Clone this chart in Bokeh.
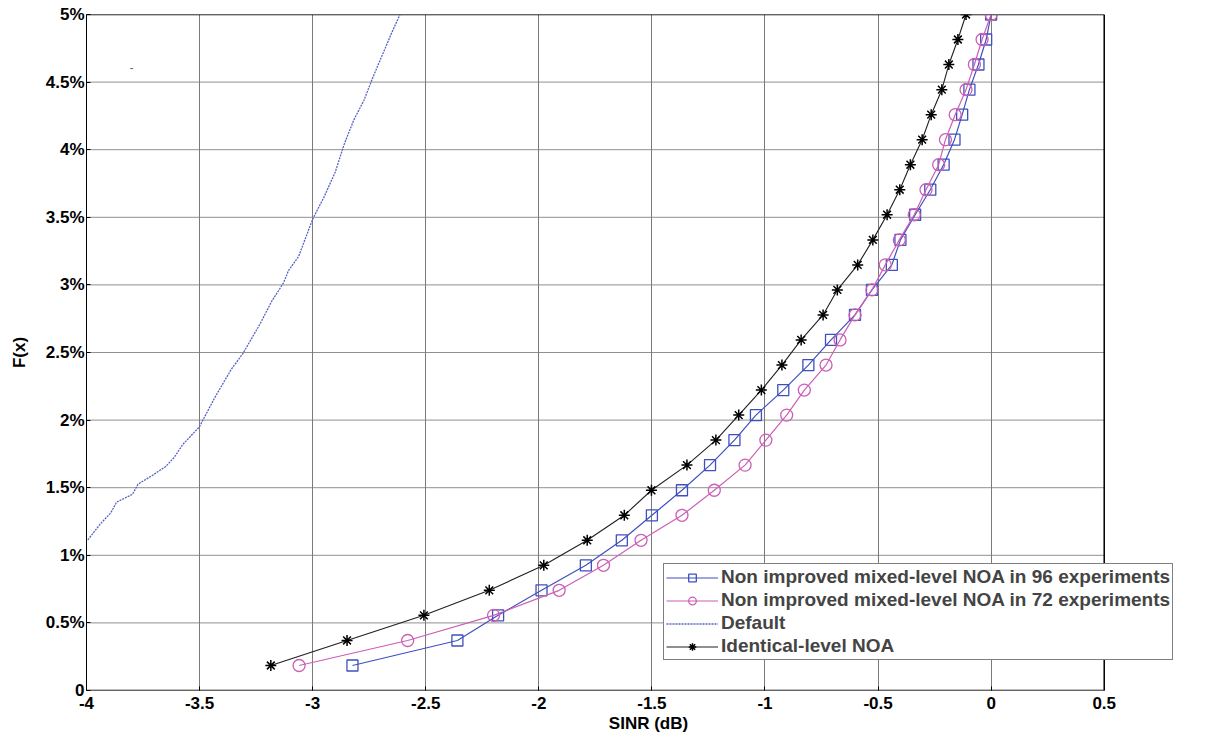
from bokeh.plotting import figure
from bokeh.models import Range1d, FixedTicker, Legend, LegendItem, CustomJSTickFormatter
from bokeh.embed import file_html
from bokeh.resources import INLINE

# ---- data ----
f_levels = [0.185, 0.370, 0.556, 0.741, 0.926, 1.111, 1.296, 1.481, 1.667, 1.852,
            2.037, 2.222, 2.407, 2.593, 2.778, 2.963, 3.148, 3.333, 3.519, 3.704,
            3.889, 4.074, 4.259, 4.444, 4.630, 4.815, 5.000]

sinr_96 = [-2.824, -2.360, -2.180, -1.988, -1.792, -1.633, -1.500, -1.367, -1.243, -1.135,
           -1.040, -0.919, -0.808, -0.708, -0.602, -0.527, -0.439, -0.401, -0.336, -0.269,
           -0.210, -0.162, -0.128, -0.096, -0.056, -0.022, 0.000]

sinr_72 = [-3.060, -2.580, -2.200, -1.910, -1.714, -1.548, -1.367, -1.224, -1.088, -0.996,
           -0.904, -0.826, -0.730, -0.668, -0.602, -0.527, -0.468, -0.406, -0.340, -0.288,
           -0.232, -0.202, -0.159, -0.111, -0.074, -0.040, 0.000]

sinr_identical = [-3.185, -2.848, -2.508, -2.219, -1.978, -1.786, -1.622, -1.502, -1.345, -1.217,
                  -1.116, -1.016, -0.925, -0.840, -0.743, -0.680, -0.590, -0.523, -0.460, -0.404,
                  -0.357, -0.305, -0.265, -0.218, -0.187, -0.147, -0.111]

default_x = [-3.994, -3.938, -3.893, -3.867, -3.797, -3.772, -3.708, -3.649, -3.612, -3.575,
             -3.501, -3.434, -3.360, -3.308, -3.234, -3.181, -3.130, -3.107, -3.062, -2.999,
             -2.950, -2.900, -2.862, -2.818, -2.773, -2.736, -2.693, -2.649, -2.614]
default_f = [1.114, 1.234, 1.313, 1.393, 1.451, 1.526, 1.592, 1.658, 1.725, 1.818,
             1.950, 2.163, 2.375, 2.494, 2.707, 2.879, 3.012, 3.105, 3.211, 3.490,
             3.649, 3.835, 4.034, 4.220, 4.366, 4.525, 4.697, 4.870, 5.000]

x_ticks = [-4, -3.5, -3, -2.5, -2, -1.5, -1, -0.5, 0, 0.5]
y_ticks = [0, 0.5, 1, 1.5, 2, 2.5, 3, 3.5, 4, 4.5, 5]

labels = ["Non improved mixed-level NOA in 96 experiments",
          "Non improved mixed-level NOA in 72 experiments",
          "Default",
          "Identical-level NOA"]

BLUE = "#3f4fbf"
PINK = "#cc5fb5"
DEFBLUE = "#5563c4"
FONT = "Liberation Sans"

# The plotting frame is extended a little past x=0.5 so that the legend
# (which sticks out of the axes box in the reference) is not clipped;
# the axes box itself is drawn at the tick limits.
X_EXTRA = 0.47
px_per_unit = 1018 / (x_ticks[-1] - x_ticks[0])

p = figure(output_backend="svg", toolbar_location=None,
           frame_width=int(round(px_per_unit * (x_ticks[-1] - x_ticks[0] + X_EXTRA))),
           frame_height=676,
           x_range=Range1d(x_ticks[0], x_ticks[-1] + X_EXTRA),
           y_range=Range1d(y_ticks[0], y_ticks[-1]),
           min_border_left=86, min_border_right=2, min_border_top=14, min_border_bottom=2,
           background_fill_color="white", border_fill_color="white")

p.outline_line_color = None

p.xgrid.grid_line_color = "#7a7a7a"
p.xgrid.grid_line_width = 1
p.ygrid.grid_line_color = None

for ax in (p.xaxis[0], p.yaxis[0]):
    ax.axis_line_color = "black"
    ax.major_tick_in = 4
    ax.major_tick_out = 0
    ax.minor_tick_line_color = None
    ax.major_tick_line_color = "black"
    ax.major_label_text_font = FONT
    ax.major_label_text_font_style = "bold"
    ax.major_label_text_font_size = "17px"
    ax.major_label_text_color = "black"
    ax.axis_label_text_font = FONT
    ax.axis_label_text_font_style = "bold"
    ax.axis_label_text_font_size = "17px"
    ax.axis_label_text_color = "black"
p.xaxis.axis_line_color = None

p.xaxis.ticker = FixedTicker(ticks=x_ticks)
p.yaxis.ticker = FixedTicker(ticks=y_ticks)
p.xaxis.formatter = CustomJSTickFormatter(code="return tick.toString();")
p.yaxis.formatter = CustomJSTickFormatter(code="return tick == 0 ? '0' : tick.toString() + '%';")
p.xaxis.axis_label = "SINR (dB)"
p.yaxis.axis_label = "F(x)"
p.yaxis.major_label_standoff = 2
p.xaxis.major_label_standoff = 6
p.yaxis.axis_label_standoff = 14
p.xaxis.axis_label_standoff = 2

# horizontal dotted grid, limited to the axes box
n = len(y_ticks)
p.segment(x0=[x_ticks[0]] * n, x1=[x_ticks[-1]] * n, y0=y_ticks, y1=y_ticks,
          line_color="#222222", line_dash="1 1", line_width=1, level="underlay")

# axes box (bottom, top, right)
p.segment(x0=[x_ticks[0], x_ticks[0], x_ticks[-1]],
          x1=[x_ticks[-1], x_ticks[-1], x_ticks[-1]],
          y0=[y_ticks[0], y_ticks[-1], y_ticks[0]],
          y1=[y_ticks[0], y_ticks[-1], y_ticks[-1]],
          line_color="black", line_width=1.5)

# series
l1 = p.line(sinr_96, f_levels, line_color=BLUE, line_width=1.2)
m1 = p.scatter(sinr_96, f_levels, marker="square", size=11, fill_color=None,
               line_color=BLUE, line_width=1.3)
l2 = p.line(sinr_72, f_levels, line_color=PINK, line_width=1.2)
m2 = p.scatter(sinr_72, f_levels, marker="circle", size=12, fill_color=None,
               line_color=PINK, line_width=1.3)
l3 = p.line(default_x, default_f, line_color=DEFBLUE, line_width=1.3, line_dash="2 1")
l4 = p.line(sinr_identical, f_levels, line_color="#202020", line_width=1.1)
m4 = p.scatter(sinr_identical, f_levels, marker="asterisk", size=11,
               line_color="black", line_width=1.5)
p.scatter([-3.8], [4.6], marker="dash", size=3, line_color="#666666", line_width=1)

legend = Legend(items=[
    LegendItem(label=labels[0], renderers=[l1, m1]),
    LegendItem(label=labels[1], renderers=[l2, m2]),
    LegendItem(label=labels[2], renderers=[l3]),
    LegendItem(label=labels[3], renderers=[l4, m4]),
], location=(577, 30))
legend.label_text_font = FONT
legend.label_text_font_style = "bold"
legend.label_text_font_size = "19px"
legend.label_height = 19
legend.glyph_height = 19
legend.glyph_width = 52
legend.label_standoff = 3
legend.spacing = 1
legend.padding = 2
legend.margin = 0
legend.border_line_color = "black"
legend.border_line_width = 1
legend.background_fill_color = "white"
legend.background_fill_alpha = 1
p.add_layout(legend)

open("out.html", "w").write(file_html(p, INLINE))
